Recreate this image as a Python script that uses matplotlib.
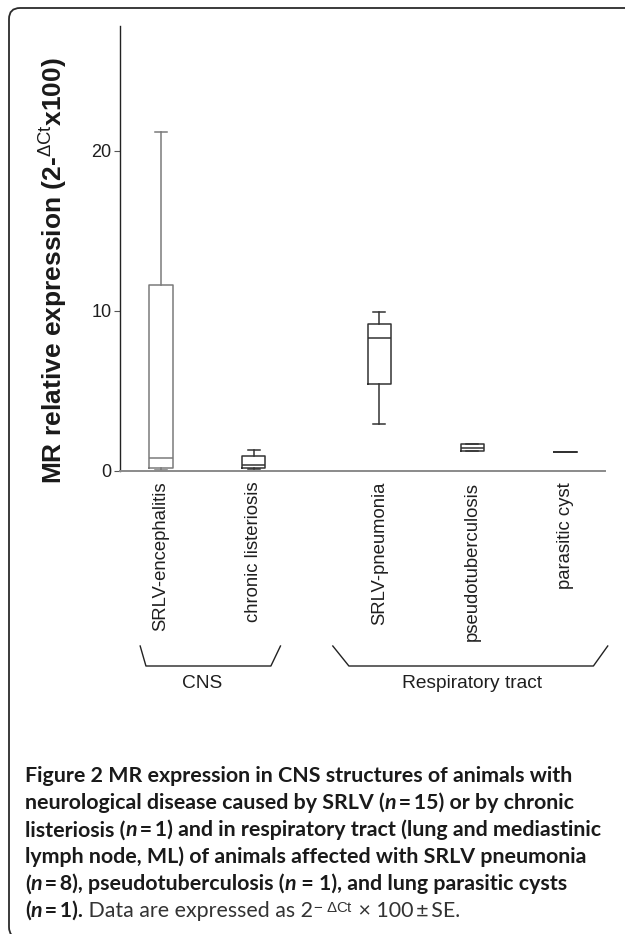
import matplotlib
matplotlib.use("Agg")
import matplotlib.pyplot as plt
from matplotlib import transforms
from matplotlib.patches import FancyBboxPatch
from matplotlib.offsetbox import TextArea, HPacker, AnnotationBbox

plt.rcParams["font.family"] = ["Liberation Sans", "DejaVu Sans"]
plt.rcParams["mathtext.fontset"] = "custom"
plt.rcParams["mathtext.rm"] = "Liberation Sans"
plt.rcParams["mathtext.it"] = "Liberation Sans:italic"
plt.rcParams["mathtext.bf"] = "Liberation Sans:bold"

# 값: 그림에서 읽은 상자그림 통계 (2^-ΔCt x 100)
groups = ["SRLV-encephalitis", "chronic listeriosis", "SRLV-pneumonia",
          "pseudotuberculosis", "parasitic cyst"]
positions = [1, 2, 3.35, 4.35, 5.35]
q1 = [0.19, 0.15, 5.4, 1.23, 1.15]
med = [0.77, 0.36, 8.27, 1.44, 1.15]
q3 = [11.6, 0.94, 9.15, 1.65, 1.15]
whislo = [0.06, 0.1, 2.94, 1.23, 1.15]
whishi = [21.2, 1.31, 9.9, 1.65, 1.15]
yticks = [0, 10, 20]

W, H = 625, 934
CAP_FONT = ["Lato", "DejaVu Sans"]
DARK, GREY = "#333333", "#7a7a7a"


def fx(px):
    return px / W


def fy(py):
    return 1 - py / H


fig = plt.figure(figsize=(W / 100, H / 100), dpi=100)
fig.patch.set_facecolor("white")

# 둥근 테두리 (오른쪽/아래는 잘림)
fig.add_artist(FancyBboxPatch((9, -4), 700, H - 8 + 4,
                              boxstyle="round,pad=0,rounding_size=11",
                              transform=transforms.IdentityTransform(),
                              fill=False, lw=1.3, ec="#2b2b2b"))

ax = fig.add_axes([fx(120), fy(470.7), fx(605.3) - fx(120), fy(26) - fy(470.7)])
stats = [dict(med=m, q1=a, q3=b, whislo=lo, whishi=hi)
         for m, a, b, lo, hi in zip(med, q1, q3, whislo, whishi)]
bp = ax.bxp(stats, positions=positions, widths=0.25, capwidths=0.13,
            showfliers=False,
            boxprops=dict(color=DARK, lw=1.1),
            whiskerprops=dict(color=DARK, lw=1.1),
            capprops=dict(color=DARK, lw=1.1),
            medianprops=dict(color=DARK, lw=1.1))
# 첫 번째 그룹은 회색 선
for art in [bp["boxes"][0], bp["medians"][0]] + bp["whiskers"][:2] + bp["caps"][:2]:
    art.set_color(GREY)

ax.set_xlim(0.56, 5.78)
ax.set_ylim(0, 27.8)
ax.set_yticks(yticks)
ax.set_xticks(positions)
ax.set_xticklabels(groups, rotation=90, fontsize=13.3, color="#1f1f1f")
ax.tick_params(axis="x", length=0, pad=8)
ax.tick_params(axis="y", length=4, width=0.8, colors="#555", labelcolor="#1f1f1f",
               labelsize=13, pad=2)
for s in ("top", "right"):
    ax.spines[s].set_visible(False)
ax.spines["left"].set_color("#222")
ax.spines["left"].set_linewidth(1.0)
ax.spines["bottom"].set_color("#8a8a8a")
ax.spines["bottom"].set_linewidth(1.4)

fig.text(fx(54), fy(271), r"MR relative expression (2-$^{\mathrm{\Delta Ct}}$x100)",
         rotation=90, fontsize=19, fontweight="bold", ha="center", va="center",
         color="#1a1a1a")

# 그룹 괄호
trans = transforms.blended_transform_factory(ax.transData, fig.transFigure)
by = [fy(646), fy(666), fy(666), fy(646)]
ax.plot([0.777, 0.839, 2.183, 2.286], by, transform=trans, clip_on=False,
        color="#222", lw=1.0)
ax.plot([2.849, 3.022, 5.652, 5.806], by, transform=trans, clip_on=False,
        color="#222", lw=1.0)
ax.text(1.44, fy(683.5), "CNS", transform=trans, ha="center", va="center",
        fontsize=13.8, color="#1f1f1f")
ax.text(4.344, fy(683.5), "Respiratory tract", transform=trans, ha="center",
        va="center", fontsize=13.8, color="#1f1f1f")

# 캡션
CS = 15.4
B = dict(family=CAP_FONT, weight="bold", size=CS, color="#1a1a1a")
BI = dict(family=CAP_FONT, weight="bold", style="italic", size=CS, color="#1a1a1a")
R = dict(family=CAP_FONT, weight="normal", size=CS, color="#333")
lines = [
    [("Figure 2 MR expression in CNS structures of animals with", B)],
    [("neurological disease caused by SRLV (", B), ("n", BI),
     ("\u2009=\u200915) or by chronic", B)],
    [("listeriosis (", B), ("n", BI),
     ("\u2009=\u20091) and in respiratory tract (lung and mediastinic", B)],
    [("lymph node, ML) of animals affected with SRLV pneumonia", B)],
    [("(", B), ("n", BI), ("\u2009=\u20098), pseudotuberculosis (", B), ("n", BI),
     (" = 1), and lung parasitic cysts", B)],
    [("(", B), ("n", BI), ("\u2009=\u20091).", B), (" Data are expressed as 2", R),
     (r"$^{-\ \Delta\mathrm{Ct}}$", R), (" \u00d7 100\u2009\u00b1\u2009SE.", R)],
]
for i, segs in enumerate(lines):
    hp = HPacker(children=[TextArea(t, textprops=p) for t, p in segs],
                 align="baseline", pad=0, sep=0)
    ab = AnnotationBbox(hp, (fx(25), fy(776 + 27 * i)), xycoords="figure fraction",
                        box_alignment=(0, 0.5), frameon=False, pad=0)
    fig.add_artist(ab)

fig.savefig("out.png", dpi=100, facecolor="white")
